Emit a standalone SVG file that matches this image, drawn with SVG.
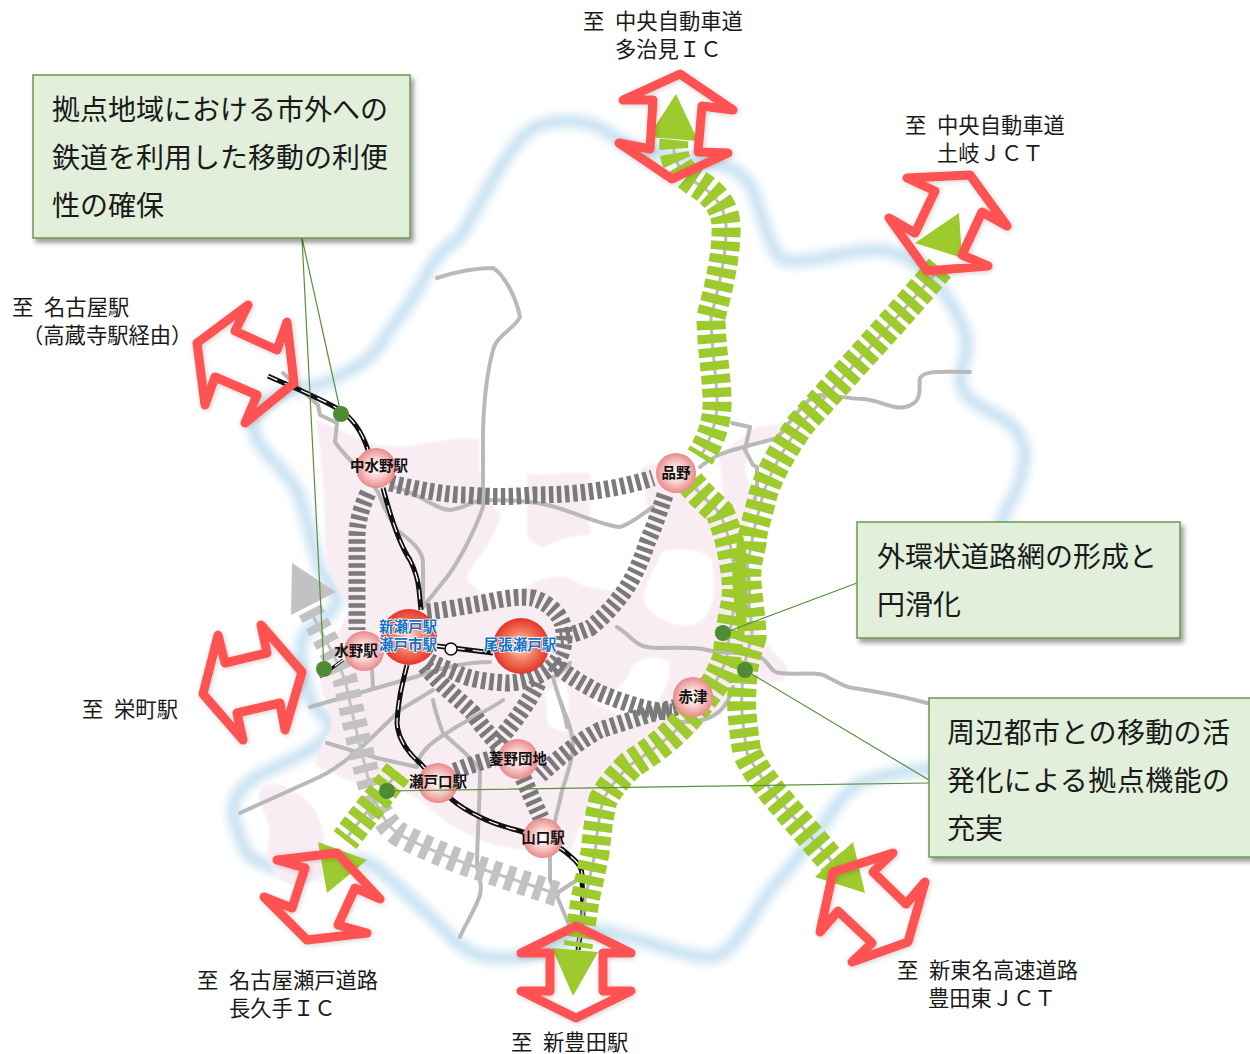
<svg xmlns="http://www.w3.org/2000/svg" width="1250" height="1054" viewBox="0 0 1250 1054">
<defs>
<style>
text{font-family:"Noto Sans CJK JP","Noto Sans",sans-serif;fill:#1a1a1a}
.lbl{font-size:21.3px;word-spacing:6px}
.box{fill:#e2efda;stroke:#6a9a4c;stroke-width:1.5;filter:url(#sh)}
.btx{font-size:28px}
.st{font-size:14.5px;font-weight:700;fill:#111;text-anchor:middle}
.stb{font-size:14.5px;font-weight:700;fill:#1470c0;text-anchor:middle;paint-order:stroke;stroke:#fff;stroke-width:1.5px}
.riv{fill:none;stroke:#cbe3f3;stroke-width:13;stroke-linecap:round;stroke-linejoin:round;filter:url(#bl)}
.rd{fill:none;stroke:#b9b9b9;stroke-width:4;stroke-linecap:round;stroke-linejoin:round}
.gt{fill:none;stroke:#7a7a7a;stroke-width:17;stroke-dasharray:4.5 3.5}
.lt{fill:none;stroke:#c2c2c2;stroke-width:25;stroke-dasharray:8 7}
.lc{fill:none;stroke:#c2c2c2;stroke-width:3}
.grn{fill:none;stroke:#9dca2d;stroke-width:29;stroke-dasharray:9 4.5}
.gc{fill:none;stroke:#b9b9cc;stroke-width:3}
.blk{fill:none;stroke:#111;stroke-width:5;stroke-linejoin:round}
.wht{fill:none;stroke:#fff;stroke-width:1.3;stroke-dasharray:10 8}
.arr{fill:none;stroke:#ff5252;stroke-width:9;stroke-linejoin:round;stroke-linecap:round;filter:url(#gl)}
.hd{fill:#9dca2d}
.ld{fill:none;stroke:#5a8f3c;stroke-width:1.2}
.dot{fill:#4f8a34}
.ps{fill:url(#pk)}
.bs{fill:url(#rd)}
</style>
<filter id="bl" x="-10%" y="-10%" width="120%" height="120%"><feGaussianBlur stdDeviation="4.5"/></filter>
<filter id="pb" x="-5%" y="-5%" width="110%" height="110%"><feGaussianBlur stdDeviation="1"/></filter>
<filter id="gl" x="-20%" y="-20%" width="140%" height="140%"><feDropShadow dx="1" dy="1" stdDeviation="2.5" flood-color="#000" flood-opacity=".2"/></filter>
<filter id="sh" x="-5%" y="-5%" width="110%" height="112%"><feDropShadow dx="3" dy="4" stdDeviation="2.5" flood-color="#000" flood-opacity=".4"/></filter>
<radialGradient id="pk"><stop offset="0" stop-color="#fff"/><stop offset=".45" stop-color="#f9d5d5"/><stop offset="1" stop-color="#e98a8a"/></radialGradient>
<radialGradient id="rd"><stop offset="0" stop-color="#fde0d0"/><stop offset=".55" stop-color="#f0785c"/><stop offset="1" stop-color="#e5352a"/></radialGradient>
</defs>
<rect width="1250" height="1054" fill="#fff"/>

<g id="river"><path class="riv" d="M600,128 C610,132 620,143 640,150 C670,155 695,160 710,163 C730,165 745,175 750,185 C762,205 765,245 783,260 C805,265 850,250 873,250 C895,248 915,262 933,277 C945,295 965,320 967,343 C968,360 955,375 963,390 C975,410 1005,415 1013,427 C1025,440 1027,455 1023,467 C1020,490 1010,500 1003,517 L1000,530 M940,768 C910,770 880,775 860,783 C840,795 830,815 820,830 C800,855 780,880 770,890 C750,920 735,950 715,957 C690,960 650,940 600,930 C570,935 550,955 520,957 C500,960 485,958 473,953 C455,945 445,930 427,913 C405,895 385,870 363,860 C340,860 320,872 300,870 C270,870 250,860 245,850 C235,825 230,810 235,800 C245,780 260,775 280,765 C300,755 325,745 333,727 C325,715 315,710 310,700 C305,680 297,660 303,637 C315,620 335,615 337,600 C335,585 325,580 320,570 C310,535 305,510 297,490 C285,470 265,455 257,440 C250,425 255,410 270,400 C290,385 320,390 340,375 C360,365 370,360 380,345 C395,320 415,300 427,273 C440,250 450,245 460,237 C480,205 505,150 530,130 C550,118 580,118 600,128"/></g>

<g id="urban-area" filter="url(#pb)">
<path fill="#f8edf3" d="M316,420 C340,430 360,440 380,445 C420,452 450,432 480,440 C478,470 480,490 500,515 C500,530 480,555 467,575 C470,595 500,600 520,590 C540,580 550,575 565,577 C590,592 612,590 635,590 C650,578 650,545 650,520 L640,470 C655,458 680,458 700,480 C720,510 730,540 735,560 C745,600 755,640 787,665 C790,675 785,682 770,682 C755,682 745,675 735,690 L715,715 C690,740 660,760 640,770 C620,782 600,790 585,815 L570,852 C555,855 520,850 495,845 C470,838 450,825 440,817 C425,805 415,795 407,793 C380,785 350,785 333,772 C320,770 312,765 317,757 C322,745 325,735 330,730 C335,715 322,700 320,680 C322,660 335,640 350,610 C340,590 325,575 325,540 C325,500 322,460 316,420 Z"/>
<path fill="#f8edf3" d="M527,473 C545,478 570,470 590,473 L590,535 C575,535 555,540 545,547 C530,545 525,535 527,520 Z"/>
<path fill="#f8edf3" d="M260,790 C270,778 285,785 300,795 C320,810 325,830 325,850 C335,870 325,880 300,885 C280,885 262,870 270,835 C270,815 255,805 260,790 Z"/>
<path fill="#f8edf3" d="M720,457 C730,445 745,435 755,428 L792,422 C785,435 770,440 750,445 L745,470 L755,500 C748,525 745,540 740,560 L725,520 Z"/>
<path fill="#fff" d="M662,552 C680,546 705,550 712,560 C716,585 716,610 700,622 C680,632 655,618 645,605 C640,590 655,570 662,552 Z"/>
<path fill="#fff" d="M633,665 C645,655 665,655 670,665 C670,685 660,705 640,715 C620,720 600,705 590,700 C605,695 625,690 633,665 Z"/>
<path fill="#fff" d="M545,692 L565,680 C570,700 570,720 565,733 L548,725 Z"/>
</g>

<g id="roads">
<path class="rd" d="M437,278 C455,272 475,268 493,268 C505,275 517,300 520,317 C515,328 498,335 494,347 C487,370 484,400 483,430 L483,507 C475,530 460,560 447,577 L423,607"/>
<path class="rd" d="M283,373 L318,405 L320,415 L337,423 L335,442 C342,452 350,460 357,467 C370,480 378,490 380,497 C385,510 390,520 397,530 C410,540 423,550 423,563 L423,607"/>
<path class="rd" d="M393,487 C415,490 435,510 450,510 C465,508 475,500 483,500 C500,500 530,500 547,505 C570,510 600,525 620,527 C630,525 645,512 653,507"/>
<path class="rd" d="M617,627 C630,635 635,645 647,647 C660,650 690,645 707,650 C725,655 745,650 760,657 C770,662 770,673 780,673 C795,675 810,672 823,675 C835,680 843,687 853,688 C880,692 905,697 927,703"/>
<path class="rd" d="M310,707 L415,677 C440,668 465,662 490,662"/>
<path class="rd" d="M700,467 C715,455 725,452 740,448 L777,438 C785,430 790,420 797,413 C805,403 810,397 820,395 C835,395 850,399 863,399 C880,400 893,410 905,407 C925,403 918,385 920,378 C925,370 940,372 970,372"/>
<path class="rd" d="M732,423 L750,427 L745,450 L753,465 L757,467 L757,490 L753,507"/>
<path class="rd" d="M240,813 L313,780 C325,775 340,765 350,757 C365,745 385,725 400,710 L433,690"/>
<path class="rd" d="M433,700 C436,715 440,725 443,733 C455,745 470,755 480,770 C480,800 477,840 477,867 C480,880 482,885 480,895 C475,910 465,925 460,937"/>
<path class="rd" d="M417,765 C420,750 435,740 447,733 C465,720 490,710 503,700"/>
<path class="rd" d="M327,743 L377,758 L417,767"/>
<path class="rd" d="M560,700 C565,715 573,730 573,745 C573,765 562,785 560,800 C555,820 550,840 550,860 L550,880 L570,927"/>
<path class="rd" d="M557,893 L577,880"/>
<path class="rd" d="M372,670 L373,688"/>
<path class="rd" d="M570,663 C565,670 555,677 553,677 C557,695 565,710 567,727"/>
<path class="rd" d="M680,722 C700,722 725,720 733,687"/>
</g>

<g id="connectors">
<path class="lc" d="M310,610 C325,640 340,665 345,680 C350,700 355,730 370,785 C378,810 385,825 400,835 C430,850 450,858 470,865 C500,875 530,885 560,895"/>
<path class="lt" d="M310,610 C325,640 340,665 345,680 C350,700 355,730 370,785 C378,810 385,825 400,835 C430,850 450,858 470,865 C500,875 530,885 560,895"/>
<polygon points="292,563 336,592 291,615" fill="#c2c2c2"/>

<path class="gt" d="M390,483 C420,490 445,495 467,495 C490,497 510,497 533,495 C575,495 615,490 653,478"/>
<path class="gt" d="M368,493 C360,510 357,525 357,537 L357,630"/>
<path class="gt" d="M665,495 C660,510 655,525 647,543 C640,565 630,585 620,597 C610,610 600,620 590,628 C580,632 572,635 560,637"/>
<path class="gt" d="M427,612 C445,610 465,606 483,603 C505,598 520,596 533,598 C550,603 560,615 563,625 C566,640 563,655 555,663 C545,675 525,683 507,683 C490,682 470,680 457,673 C445,668 435,665 428,660"/>
<path class="gt" d="M553,663 C570,677 585,685 600,693 C625,703 650,712 672,712"/>
<path class="gt" d="M425,666 C440,685 460,700 473,713 C480,725 490,735 500,747"/>
<path class="gt" d="M538,683 C530,700 515,722 497,742"/>
<path class="gt" d="M497,757 C480,762 465,767 453,772"/>
<path class="gt" d="M677,707 C655,712 625,722 600,730 C580,740 560,757 540,775"/>
<path class="gt" d="M523,778 L541,818"/>

<path class="blk" d="M268,376 C295,388 320,398 340,410 C355,420 363,435 368,450"/>
<path class="wht" d="M268,376 C295,388 320,398 340,410 C355,420 363,435 368,450"/>
<path class="blk" d="M383,488 C390,515 400,545 410,560 C415,570 418,580 419,590 L421,610"/>
<path class="wht" d="M383,488 C390,515 400,545 410,560 C415,570 418,580 419,590 L421,610"/>
<path class="blk" d="M407,665 C402,685 398,700 397,723 C398,740 410,755 420,763 L438,782 C445,795 455,805 480,817 C495,825 510,828 523,832 L543,838 L563,850 C575,860 582,865 582,875 L583,913 L578,950"/>
<path class="wht" d="M407,665 C402,685 398,700 397,723 C398,740 410,755 420,763 L438,782 C445,795 455,805 480,817 C495,825 510,828 523,832 L543,838 L563,850 C575,860 582,865 582,875 L583,913 L578,950"/>
<path class="blk" d="M437,646 L493,653"/>
<path class="wht" d="M437,646 L493,653"/>
<path class="blk" style="stroke-width:3" d="M343,660 L320,677"/>
<path class="wht" d="M343,660 L320,677"/>

<path class="gc" d="M674,140 C672,160 680,172 695,182 C712,192 725,205 726,225 C727,255 718,290 711,317 C711,345 716,370 717,397 C718,420 712,438 700,457"/>
<path class="grn" d="M674,140 C672,160 680,172 695,182 C712,192 725,205 726,225 C727,255 718,290 711,317 C711,345 716,370 717,397 C718,420 712,438 700,457"/>
<path class="gc" d="M690,482 C700,495 712,505 720,513 C725,525 730,540 733,560 C737,580 738,595 733,613 C730,630 728,645 727,657 C722,670 718,680 712,687 C700,705 685,722 673,733 C660,745 650,752 630,765 C615,780 608,790 603,800 C598,820 597,835 595,853 L585,900 L578,947"/>
<path class="grn" d="M690,482 C700,495 712,505 720,513 C725,525 730,540 733,560 C737,580 738,595 733,613 C730,630 728,645 727,657 C722,670 718,680 712,687 C700,705 685,722 673,733 C660,745 650,752 630,765 C615,780 608,790 603,800 C598,820 597,835 595,853 L585,900 L578,947"/>
<path class="gc" d="M940,268 C900,315 840,380 800,425 C780,455 765,480 760,507 C755,525 752,535 752,543 C748,560 746,570 747,583 C748,600 752,620 752,637 C748,650 745,660 743,673 C742,690 741,700 742,713 C743,725 745,740 747,753 C755,770 765,782 773,793 L835,865"/>
<path class="grn" d="M940,268 C900,315 840,380 800,425 C780,455 765,480 760,507 C755,525 752,535 752,543 C748,560 746,570 747,583 C748,600 752,620 752,637 C748,650 745,660 743,673 C742,690 741,700 742,713 C743,725 745,740 747,753 C755,770 765,782 773,793 L835,865"/>
<path class="gc" d="M398,772 L345,840"/>
<path class="grn" d="M398,772 L345,840"/>
<polygon class="hd" points="676,94 698,141 648,137"/>
<polygon class="hd" points="959,213 962,258 915,243"/>
<polygon class="hd" points="853,842 865,893 815,877"/>
<polygon class="hd" points="552,948 598,952 573,996"/>
<polygon class="hd" points="318,842 367,860 327,893"/>

<polygon class="arr" points="680,74 733,110 702,106 698,152 728,153 672,179 619,143 650,149 653,100 623,100"/>
<polygon class="arr" points="970,175 1007,226 982,212 962,255 988,266 927,271 889,218 915,233 935,191 907,178"/>
<polygon class="arr" points="248,305 235,331 277,350 287,322 294,383 245,423 257,395 215,377 205,405 197,343"/>
<polygon class="arr" points="261,625 302,672 285,730 280,703 237,713 243,740 203,694 218,635 225,663 267,653"/>
<polygon class="arr" points="337,853 380,899 355,888 338,925 367,933 307,940 264,897 292,908 305,868 277,860"/>
<polygon class="arr" points="576,926 631,953 603,953 603,991 631,991 576,1018 521,991 550,991 550,953 521,953"/>
<polygon class="arr" points="893,853 873,872 906,904 925,882 908,942 852,962 872,943 838,911 820,932 833,872"/>
<circle cx="451" cy="649" r="6" fill="#fff" stroke="#111" stroke-width="1.5"/>
</g>

<g id="st-nakamizuno"><circle class="ps" cx="376" cy="468" r="20"/><text class="st" x="379" y="471">中水野駅</text></g>
<g id="st-shinano"><circle class="ps" cx="676" cy="473" r="20"/><text class="st" x="676" y="478">品野</text></g>
<g id="st-mizuno"><circle class="ps" cx="364" cy="651" r="20"/><text class="st" x="356" y="656">水野駅</text></g>
<g id="st-shinseto"><circle class="bs" cx="409" cy="637" r="28"/><text class="stb" x="408" y="632">新瀬戸駅</text><text class="stb" x="408" y="650">瀬戸市駅</text></g>
<g id="st-owariseto"><circle class="bs" cx="521" cy="646" r="28"/><text class="stb" x="520" y="650">尾張瀬戸駅</text></g>
<g id="st-akazu"><circle class="ps" cx="693" cy="697" r="20"/><text class="st" x="693" y="702">赤津</text></g>
<g id="st-hishino"><circle class="ps" cx="518" cy="759" r="20"/><text class="st" x="518" y="764">菱野団地</text></g>
<g id="st-setoguchi"><circle class="ps" cx="438" cy="783" r="20"/><text class="st" x="438" y="787">瀬戸口駅</text></g>
<g id="st-yamaguchi"><circle class="ps" cx="543" cy="838" r="20"/><text class="st" x="543" y="843">山口駅</text></g>

<g id="leaders">
<path class="ld" d="M302,238 L341,414 M302,238 L324,669 M857,583 L724,633 M929,780 L745,670 M929,783 L387,791"/>
<circle class="dot" cx="341" cy="414" r="8"/>
<circle class="dot" cx="324" cy="669" r="8"/>
<circle class="dot" cx="723" cy="633" r="8"/>
<circle class="dot" cx="745" cy="670" r="8"/>
<circle class="dot" cx="387" cy="791" r="8"/>
</g>

<g id="callout-rail"><rect class="box" x="33" y="75" width="377" height="163"/>
<text class="btx" x="52" y="120">拠点地域における市外への</text><text class="btx" x="52" y="168">鉄道を利用した移動の利便</text><text class="btx" x="52" y="216">性の確保</text></g>
<g id="callout-ring"><rect class="box" x="857" y="522" width="323" height="116"/>
<text class="btx" x="877" y="567">外環状道路網の形成と</text><text class="btx" x="877" y="615">円滑化</text></g>
<g id="callout-city"><rect class="box" x="929" y="698" width="330" height="159"/>
<text class="btx" x="947" y="743" textLength="283">周辺都市との移動の活</text><text class="btx" x="947" y="791" textLength="283">発化による拠点機能の</text><text class="btx" x="947" y="839">充実</text></g>

<g id="labels">
<text class="lbl" x="583" y="29">至 中央自動車道</text><text class="lbl" x="615" y="57">多治見ＩＣ</text>
<text class="lbl" x="905" y="133">至 中央自動車道</text><text class="lbl" x="937" y="161">土岐ＪＣＴ</text>
<text class="lbl" x="12" y="315">至 名古屋駅</text><text class="lbl" x="22" y="343">（高蔵寺駅経由）</text>
<text class="lbl" x="82" y="717">至 栄町駅</text>
<text class="lbl" x="897" y="978">至 新東名高速道路</text><text class="lbl" x="928" y="1006">豊田東ＪＣＴ</text>
<text class="lbl" x="197" y="988">至 名古屋瀬戸道路</text><text class="lbl" x="229" y="1016">長久手ＩＣ</text>
<text class="lbl" x="511" y="1050">至 新豊田駅</text>
</g>
</svg>
